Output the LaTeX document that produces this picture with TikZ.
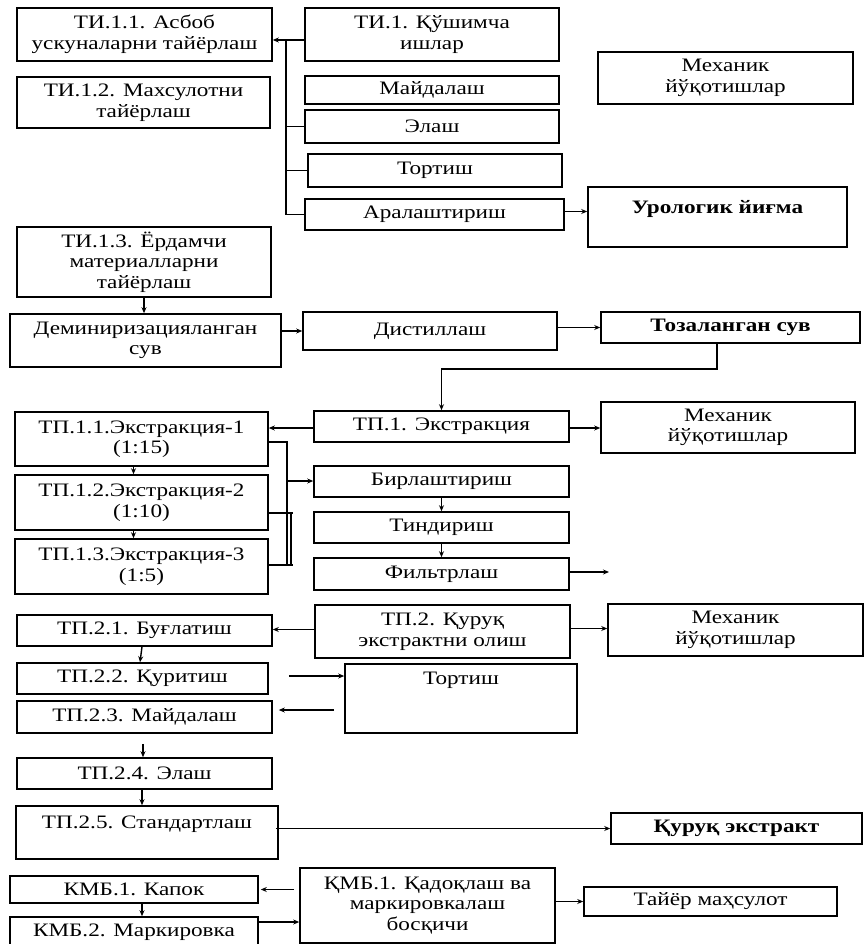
\documentclass[tikz,border=0pt]{standalone}
\usepackage{fontspec}
\setmainfont{Liberation Serif}[FakeStretch=1.22]
\usetikzlibrary{arrows.meta,calc}
\tikzset{
  box/.style={draw, line width=1.6pt, inner sep=0pt, align=center,
    font=\fontsize{19}{20.5}\selectfont},
  boldbox/.style={box, font=\fontsize{19}{20.5}\selectfont\bfseries},
  ln/.style={line width=1.4pt},
  arr/.style={line width=1.4pt, -{Stealth[length=6pt,width=5pt]}},
}
\begin{document}
\begin{tikzpicture}[x=1pt,y=1pt]
\useasboundingbox (0,0) rectangle (865,-944);
\clip (0,0) rectangle (865,-944);

% --- ТИ: preparatory stage ---
\node[box, minimum width=255, minimum height=53] (ti11) at (144.5,-34.5) {ТИ.1.1. Асбоб\\ ускуналарни тайёрлаш};
\node[box, minimum width=253, minimum height=51] (ti12) at (143.5,-102.5) {ТИ.1.2. Махсулотни\\ тайёрлаш};
\node[box, minimum width=254, minimum height=53] (ti1) at (432,-34.5) {ТИ.1. Қўшимча\\ ишлар};
\node[box, minimum width=254, minimum height=28] (may1) at (432,-90) {Майдалаш};
\node[box, minimum width=254, minimum height=33] (ela1) at (432,-126.5) {Элаш};
\node[box, minimum width=254, minimum height=33] (tor1) at (435,-170.5) {Тортиш};
\node[box, minimum width=259, minimum height=31] (aral) at (434.5,-214.5) {Аралаштириш};
\node[box, minimum width=255, minimum height=52] (mex1) at (725.5,-78) {Механик\\ йўқотишлар};
\node[boldbox, minimum width=259, minimum height=60] (urol) at (717.5,-217) {Урологик йиғма\\ \mbox{}};

\node[box, minimum width=254, minimum height=70] (ti13) at (144,-262) {ТИ.1.3. Ёрдамчи\\ материалларни\\ тайёрлаш};
\node[box, minimum width=271, minimum height=53] (demin) at (145.5,-340.5) {Деминиризацияланган\\ сув};
\node[box, minimum width=254, minimum height=38] (dist) at (430,-331) {Дистиллаш};
\node[boldbox, minimum width=259, minimum height=31] (toz) at (730.5,-327.5) {Тозаланган сув};

% --- ТП.1: extraction ---
\node[box, minimum width=255, minimum height=31] (tp1) at (441.5,-426.5) {ТП.1. Экстракция};
\node[box, minimum width=254, minimum height=51] (mex2) at (728,-427.5) {Механик\\ йўқотишлар};
\node[box, minimum width=253, minimum height=54] (tp11) at (141.5,-439) {ТП.1.1.Экстракция-1\\ (1:15)};
\node[box, minimum width=253, minimum height=55] (tp12) at (141.5,-502.5) {ТП.1.2.Экстракция-2\\ (1:10)};
\node[box, minimum width=253, minimum height=55] (tp13) at (141.5,-566.5) {ТП.1.3.Экстракция-3\\ (1:5)};
\node[box, minimum width=255, minimum height=31] (birl) at (441.5,-481.5) {Бирлаштириш};
\node[box, minimum width=255, minimum height=31] (tind) at (441.5,-527.5) {Тиндириш};
\node[box, minimum width=255, minimum height=32] (filt) at (441.5,-574) {Фильтрлаш};
\coordinate (filtout) at (609,-572);

% --- ТП.2: dry extract ---
\node[box, minimum width=255, minimum height=53] (tp2) at (442.5,-631.5) {ТП.2. Қуруқ\\ экстрактни олиш};
\node[box, minimum width=255, minimum height=52] (mex3) at (735.5,-630) {Механик\\ йўқотишлар};
\node[box, minimum width=255, minimum height=31] (tp21) at (144.5,-630.5) {ТП.2.1. Буғлатиш};
\node[box, minimum width=251, minimum height=31] (tp22) at (142.5,-678.5) {ТП.2.2. Қуритиш};
\node[box, minimum width=255, minimum height=32] (tp23) at (144.5,-717) {ТП.2.3. Майдалаш};
\node[box, minimum width=232, minimum height=69] (tor2) at (461,-698.5) {Тортиш\\ \mbox{}\\ \mbox{}};
\node[box, minimum width=255, minimum height=31] (tp24) at (144.5,-773.5) {ТП.2.4. Элаш};
\node[box, minimum width=262, minimum height=53] (tp25) at (147,-832.5) {ТП.2.5. Стандартлаш\\ \mbox{}};
\node[boldbox, minimum width=251, minimum height=31] (quruq) at (736.5,-828.5) {Қуруқ экстракт};

% --- ҚМБ: packaging ---
\node[box, minimum width=248, minimum height=27] (kmb1) at (134,-889.5) {КМБ.1. Капок};
\node[box, minimum width=248, minimum height=30] (kmb2) at (134,-932) {КМБ.2. Маркировка};
\node[box, minimum width=255, minimum height=75] (qmb) at (427.5,-905.5) {ҚМБ.1. Қадоқлаш ва\\ маркировкалаш\\ босқичи};
\node[box, minimum width=253, minimum height=29] (tayyor) at (710.5,-901.5) {Тайёр маҳсулот};

% --- connectors: preparatory stage ---
\coordinate (busT) at (286,-40);
\draw[arr] ([yshift=-5.5pt]ti1.west) -- ([yshift=-5.5pt]ti11.east);
\draw[ln] (busT) |- (aral.west);
\draw[ln] (busT |- ela1.west) -- (ela1.west);
\draw[ln] (busT |- tor1.west) -- (tor1.west);
\draw[arr] ([yshift=3pt]aral.east) -- ([yshift=3pt]aral.east -| urol.west);

\draw[arr] (ti13.south) -- (ti13.south |- demin.north);
\draw[arr] (demin.east |- dist.west) -- (dist.west);
\draw[arr] (dist.east |- toz.west) -- (toz.west);
\draw[arr] ([xshift=-13.5pt]toz.south) -- ++(0,-25) -| (tp1.north);

% --- connectors: extraction ---
\draw[arr] ([yshift=-1.5pt]tp1.west) -- ([yshift=-1.5pt]tp1.west -| tp11.east);
\draw[arr] ([yshift=-1.5pt]tp1.east) -- ([yshift=-1.5pt]tp1.east -| mex2.west);
\draw[arr] ([xshift=-8pt]tp11.south) -- ([xshift=-8pt]tp12.north);
\draw[arr] ([xshift=-8pt]tp12.south) -- ([xshift=-8pt]tp13.north);
\coordinate (brk) at (287,-481);
\draw[ln] ([yshift=-3pt]tp11.east) -| ([yshift=1.5pt]brk |- tp13.east) -- ([yshift=1.5pt]tp13.east);
\draw[ln] ([yshift=1.5pt]tp13.east) -- ++(24,0);
\draw[ln] ([yshift=-10.5pt]tp12.east) -- ++(24,0);
\draw[ln] ([xshift=4pt,yshift=-10.5pt]brk |- tp12.east) -- ([xshift=4pt,yshift=1.5pt]brk |- tp13.east);
\draw[arr] (brk) -- (brk -| birl.west);
\draw[arr] (birl.south) -- (tind.north);
\draw[arr] (tind.south) -- (filt.north);
\draw[arr] ([yshift=2pt]filt.east) -- (filtout);

% --- connectors: dry extract ---
\draw[arr] ([yshift=2pt]tp2.west) -- ([yshift=2pt]tp2.west -| tp21.east);
\draw[arr] ([yshift=3pt]tp2.east) -- ([yshift=3pt]tp2.east -| mex3.west);
\draw[arr] ([xshift=-2.5pt]tp21.south) -- ([xshift=-2.5pt]tp22.north);
\draw[arr, shorten <=20pt] ([yshift=2.5pt]tp22.east) -- ([yshift=2.5pt]tp22.east -| tor2.west);
\draw[arr, shorten <=10pt, shorten >=6pt] ([yshift=7pt]tp23.east -| tor2.west) -- ([yshift=7pt]tp23.east);
\draw[arr, shorten <=10pt] ([xshift=-1.5pt]tp23.south) -- ([xshift=-1.5pt]tp24.north);
\draw[arr] ([xshift=-2.5pt]tp24.south) -- ([xshift=-5pt]tp25.north);
\draw[arr] ([xshift=-3pt]tp25.east |- quruq.west) -- (quruq.west);

% --- connectors: packaging ---
\draw[arr, shorten <=5pt, shorten >=2pt] (qmb.west |- kmb1.east) -- (kmb1.east);
\draw[arr] ([xshift=8pt]kmb1.south) -- ([xshift=8pt]kmb2.north);
\draw[arr] ([yshift=10pt]kmb2.east) -- ([yshift=10pt]kmb2.east -| qmb.west);
\draw[arr] (qmb.east |- tayyor.west) -- (tayyor.west);
\end{tikzpicture}
\end{document}
